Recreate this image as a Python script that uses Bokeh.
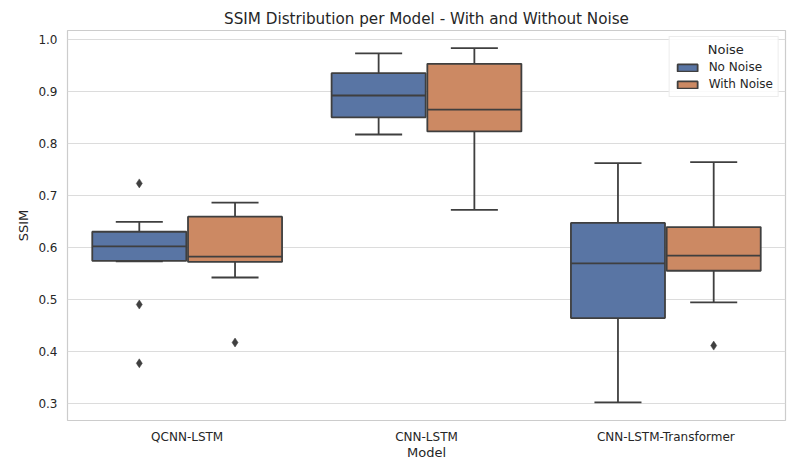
from bokeh.plotting import figure
from bokeh.models import ColumnDataSource, Range1d, FactorRange, Legend, LegendItem, FixedTicker, PrintfTickFormatter
from bokeh.transform import dodge
from bokeh.embed import file_html
from bokeh.resources import INLINE

models = ["QCNN-LSTM", "CNN-LSTM", "CNN-LSTM-Transformer"]

# No Noise summary statistics
nn_lo = [0.573, 0.817, 0.302]
nn_q1 = [0.574, 0.850, 0.464]
nn_med = [0.602, 0.892, 0.569]
nn_q3 = [0.630, 0.935, 0.647]
nn_hi = [0.649, 0.973, 0.762]
nn_out_model = ["QCNN-LSTM", "QCNN-LSTM", "QCNN-LSTM"]
nn_out_val = [0.723, 0.490, 0.377]

# With Noise summary statistics
wn_lo = [0.542, 0.672, 0.494]
wn_q1 = [0.572, 0.823, 0.555]
wn_med = [0.582, 0.865, 0.584]
wn_q3 = [0.659, 0.953, 0.639]
wn_hi = [0.686, 0.983, 0.764]
wn_out_model = ["QCNN-LSTM", "CNN-LSTM-Transformer"]
wn_out_val = [0.417, 0.411]

yticks = [0.3, 0.4, 0.5, 0.6, 0.7, 0.8, 0.9, 1.0]

FONT = "DejaVu Sans"
TXT = "#262626"
EDGE = "#3f3f3f"

p = figure(width=787, height=467, output_backend="svg", toolbar_location=None,
           x_range=FactorRange(*models), y_range=Range1d(0.267, 1.017),
           title="SSIM Distribution per Model - With and Without Noise")
p.min_border_left = 67
p.min_border_right = 2
p.min_border_bottom = 47
p.min_border_top = 30
p.title.align = "center"
p.title.text_font = FONT
p.title.text_font_size = "15.2px"
p.title.text_font_style = "normal"
p.title.text_color = TXT
p.title.standoff = 5

p.background_fill_color = "white"
p.outline_line_color = "#cccccc"
p.outline_line_width = 1.2

for ax in (p.xaxis[0], p.yaxis[0]):
    ax.axis_line_color = None
    ax.major_tick_line_color = None
    ax.minor_tick_line_color = None
    ax.major_tick_out = 0
    ax.major_tick_in = 0
    ax.minor_tick_out = 0
    ax.minor_tick_in = 0
    ax.major_label_text_font = FONT
    ax.major_label_text_font_size = "12px"
    ax.major_label_text_color = TXT
    ax.axis_label_text_font = FONT
    ax.axis_label_text_font_size = "13px"
    ax.axis_label_text_font_style = "normal"
    ax.axis_label_text_color = TXT

p.xaxis.axis_label = "Model"
p.yaxis.axis_label = "SSIM"
p.yaxis.ticker = FixedTicker(ticks=yticks)
p.yaxis.formatter = PrintfTickFormatter(format="%.1f")
p.yaxis.major_label_standoff = 10
p.yaxis.axis_label_standoff = 4
p.xaxis.major_label_standoff = 9
p.xaxis.axis_label_standoff = -2

p.xgrid.grid_line_color = None
p.ygrid.grid_line_color = "#dcdcdc"
p.ygrid.grid_line_width = 1

BW = 0.393
legend_items = []
series = [
    ("No Noise", -0.2, "#5975a4", nn_lo, nn_q1, nn_med, nn_q3, nn_hi, nn_out_model, nn_out_val),
    ("With Noise", 0.2, "#cc8963", wn_lo, wn_q1, wn_med, wn_q3, wn_hi, wn_out_model, wn_out_val),
]
for name, off, col, lo, q1, med, q3, hi, om, ov in series:
    src = ColumnDataSource(dict(model=models, lo=lo, q1=q1, med=med, q3=q3, hi=hi))
    xr = p.x_range
    # whiskers
    p.segment(x0=dodge("model", off, range=xr), y0="q3", x1=dodge("model", off, range=xr), y1="hi",
              source=src, line_color=EDGE, line_width=1.8)
    p.segment(x0=dodge("model", off, range=xr), y0="q1", x1=dodge("model", off, range=xr), y1="lo",
              source=src, line_color=EDGE, line_width=1.8)
    # caps
    p.segment(x0=dodge("model", off - BW / 4, range=xr), y0="hi", x1=dodge("model", off + BW / 4, range=xr), y1="hi",
              source=src, line_color=EDGE, line_width=1.8)
    p.segment(x0=dodge("model", off - BW / 4, range=xr), y0="lo", x1=dodge("model", off + BW / 4, range=xr), y1="lo",
              source=src, line_color=EDGE, line_width=1.8)
    # boxes
    r = p.vbar(x=dodge("model", off, range=xr), width=BW, top="q3", bottom="q1", source=src,
               fill_color=col, line_color=EDGE, line_width=1.8)
    # medians
    p.segment(x0=dodge("model", off - BW / 2, range=xr), y0="med", x1=dodge("model", off + BW / 2, range=xr), y1="med",
              source=src, line_color=EDGE, line_width=1.8)
    # outliers
    osrc = ColumnDataSource(dict(model=om, val=ov))
    p.scatter(x=dodge("model", off, range=xr), y="val", source=osrc, marker="diamond", size=9,
              fill_color=EDGE, line_color=EDGE, line_width=0.5)
    legend_items.append(LegendItem(label=name, renderers=[r]))

legend = Legend(items=legend_items, location="top_right", title="\u00a0" * 8 + "Noise")
legend.title_text_font = FONT
legend.title_text_font_size = "13px"
legend.title_text_font_style = "normal"
legend.title_text_color = TXT
legend.title_standoff = 3
legend.label_text_font = FONT
legend.label_text_font_size = "12px"
legend.label_text_color = TXT
legend.glyph_width = 25
legend.glyph_height = 9
legend.label_standoff = 9
legend.spacing = 3
legend.padding = 5
legend.margin = 6
legend.border_line_color = "#d9d9d9"
legend.background_fill_alpha = 0.85
p.add_layout(legend)

open("out.html", "w").write(file_html(p, INLINE))
